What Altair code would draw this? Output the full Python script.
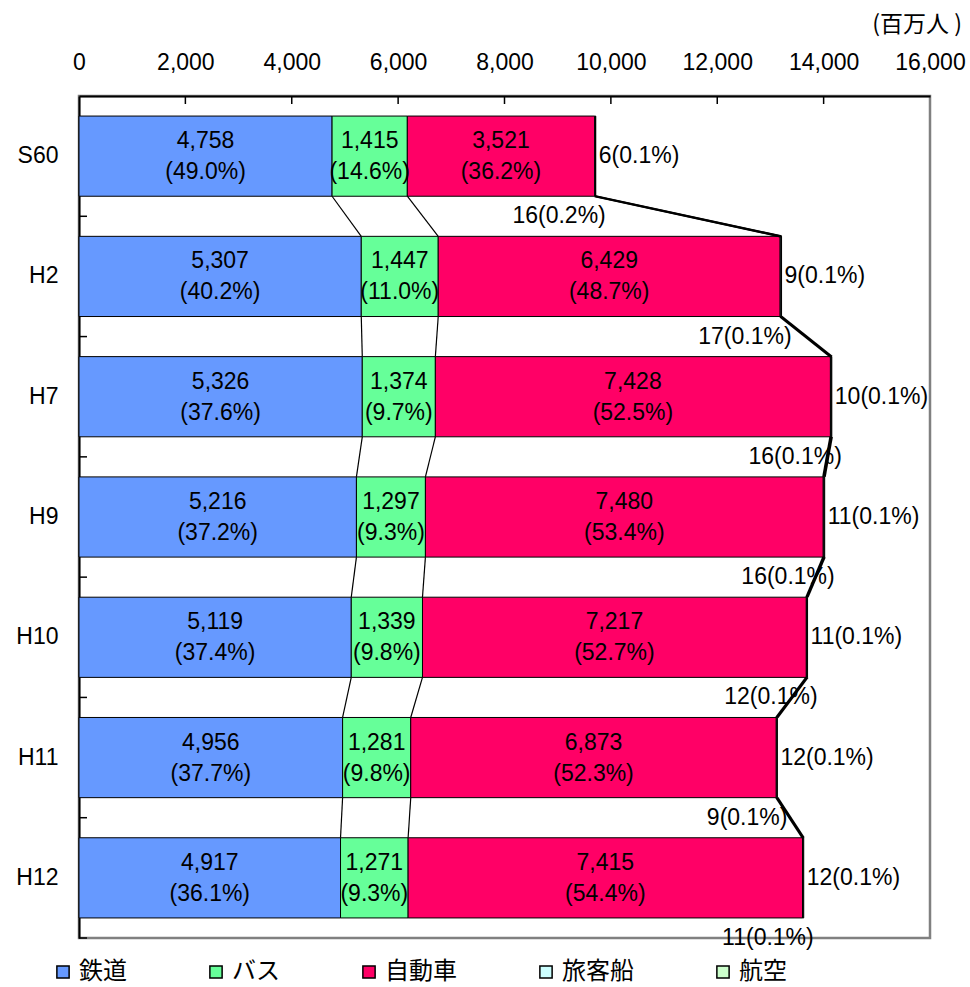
import altair as alt
import pandas as pd

# Passengers by mode of transport (million people)
years = ["S60", "H2", "H7", "H9", "H10", "H11", "H12"]
modes = ["鉄道", "バス", "自動車", "旅客船", "航空"]
colors = ["#6699FF", "#66FF99", "#FF0066", "#CCFFFF", "#CCFFCC"]

rail = [4758, 5307, 5326, 5216, 5119, 4956, 4917]
bus = [1415, 1447, 1374, 1297, 1339, 1281, 1271]
car = [3521, 6429, 7428, 7480, 7217, 6873, 7415]
ship = [16, 17, 16, 16, 12, 9, 11]
air = [6, 9, 10, 11, 11, 12, 12]

rail_share = [49.0, 40.2, 37.6, 37.2, 37.4, 37.7, 36.1]
bus_share = [14.6, 11.0, 9.7, 9.3, 9.8, 9.8, 9.3]
car_share = [36.2, 48.7, 52.5, 53.4, 52.7, 52.3, 54.4]
ship_share = [0.2, 0.1, 0.1, 0.1, 0.1, 0.1, 0.1]
air_share = [0.1, 0.1, 0.1, 0.1, 0.1, 0.1, 0.1]

x_ticks = [0, 2000, 4000, 6000, 8000, 10000, 12000, 14000, 16000]

W, H = 851, 842
STEP = H / len(years)
P_IN, P_OUT = 1 / 3, 1 / 6
BW = STEP * (1 - P_IN)
FONT = "Liberation Sans, Arial"
JP = "Noto Sans CJK JP"
FS = 23

series = [rail, bus, car, ship, air]
shares = [rail_share, bus_share, car_share, ship_share, air_share]

# stacked segments with running totals
seg_rows = []
cums = []  # boundary positions per year
for i, y in enumerate(years):
    start = 0
    bounds = []
    for k, m in enumerate(modes):
        v = series[k][i]
        seg_rows.append(dict(year=y, mode=m, order=k, start=start, end=start + v,
                             mid=start + v / 2,
                             label=f"{v:,}\n({shares[k][i]:.1f}%)"))
        start += v
        bounds.append(start)
    cums.append(bounds)
seg = pd.DataFrame(seg_rows)
inside = seg[seg["order"] < 3]


def connector_rows(kinds):
    rows = []
    for i in range(len(years) - 1):
        for k in kinds:
            rows.append(dict(year=years[i], to=years[i + 1],
                             start=cums[i][k], end=cums[i + 1][k]))
    return pd.DataFrame(rows)


# connector lines between consecutive bars: thin after rail and bus,
# heavy along the right-hand end (car end and overall total)
con_thin = connector_rows([0, 1])
con_thick = connector_rows([2, 4])

tot = pd.DataFrame(dict(
    year=years,
    start=[c[4] for c in cums],
    air_lbl=[f"{a}({s:.1f}%)" for a, s in zip(air, air_share)],
    ship_lbl=[f"{a}({s:.1f}%)" for a, s in zip(ship, ship_share)],
))

yscale = alt.Scale(domain=years, paddingInner=P_IN, paddingOuter=P_OUT)
xscale = alt.Scale(domain=[0, 16000], nice=False)

yaxis = alt.Axis(title=None, orient="left", ticks=False, tickSize=0,
                 labelFontSize=FS, labelFont=FONT, labelColor="black",
                 labelPadding=21, domainColor="black", domainWidth=2)
xaxis = alt.Axis(title=None, orient="top", values=x_ticks, format=",d",
                 ticks=False, tickSize=0, grid=False,
                 labelFlush=False, labelOverlap=False,
                 labelFontSize=FS, labelFont=FONT, labelColor="black",
                 labelPadding=22, domainColor="black", domainWidth=2)

Y = alt.Y("year:N", scale=yscale, sort=years, axis=yaxis)
X = alt.X("start:Q", scale=xscale, axis=xaxis)

bars = alt.Chart(seg).mark_bar(stroke="black", strokeWidth=1).encode(
    y=Y, x=X, x2="end:Q",
    color=alt.Color("mode:N", scale=alt.Scale(domain=modes, range=colors),
                    legend=alt.Legend(title=None, orient="none", direction="horizontal",
                                      columns=5, legendX=-28, legendY=864,
                                      symbolType="square", symbolSize=150,
                                      symbolStrokeColor="black", symbolStrokeWidth=1.5,
                                      labelFontSize=24, labelFont=JP, labelColor="black",
                                      labelOffset=4, columnPadding=77, padding=0)),
    order="order:Q",
)

thin = alt.Chart(con_thin).mark_rule(color="black", strokeWidth=1.2,
                                     yOffset=BW / 2, y2Offset=-BW / 2).encode(
    y=Y, y2="to:N", x=X, x2="end:Q",
)

thick = alt.Chart(con_thick).mark_rule(color="black", strokeWidth=2.2,
                                       yOffset=BW / 2, y2Offset=-BW / 2).encode(
    y=Y, y2="to:N", x=X, x2="end:Q",
)

inside_text = alt.Chart(inside).mark_text(
    font=FONT, fontSize=FS, lineBreak="\n", lineHeight=31, baseline="middle",
    dy=-15, color="black").encode(
    y=Y, x=alt.X("mid:Q", scale=xscale, axis=xaxis), text="label:N",
)

air_text = alt.Chart(tot).mark_text(font=FONT, fontSize=FS, align="left", dx=3,
                                    baseline="middle", color="black").encode(
    y=Y, x=X, text="air_lbl:N",
)

ship_text = alt.Chart(tot).mark_text(font=FONT, fontSize=FS, align="right", dx=10,
                                     yOffset=STEP / 2, baseline="middle",
                                     color="black").encode(
    y=Y, x=X, text="ship_lbl:N",
)

# short inward ticks on the category axis (between the bars)
ytick = alt.Chart(pd.DataFrame({"year": years})).mark_rule(
    color="black", strokeWidth=1.5, yOffset=STEP / 2).encode(
    y=Y, x=alt.value(0), x2=alt.value(8),
)

# short inward ticks on the value axis
xtick = alt.Chart(pd.DataFrame({"start": x_ticks[1:-1]})).mark_rule(
    color="black", strokeWidth=1.5).encode(
    x=X, y=alt.value(0), y2=alt.value(8),
)

unit = alt.Chart(pd.DataFrame({"t": ["(百万人 )"]})).mark_text(
    font=JP, fontSize=23, align="right", baseline="middle", color="black").encode(
    text="t:N", x=alt.value(883), y=alt.value(-71),
)

chart = alt.layer(bars, thin, thick, inside_text, air_text, ship_text, ytick, xtick, unit).properties(
    width=W, height=H,
    autosize=alt.AutoSizeParams(type="none"),
    padding={"left": 79, "top": 96, "right": 40, "bottom": 49},
    background="white",
).configure_view(stroke="#808080", strokeWidth=2.5)

chart.save("out.html", embed_options={"renderer": "svg", "actions": False})
